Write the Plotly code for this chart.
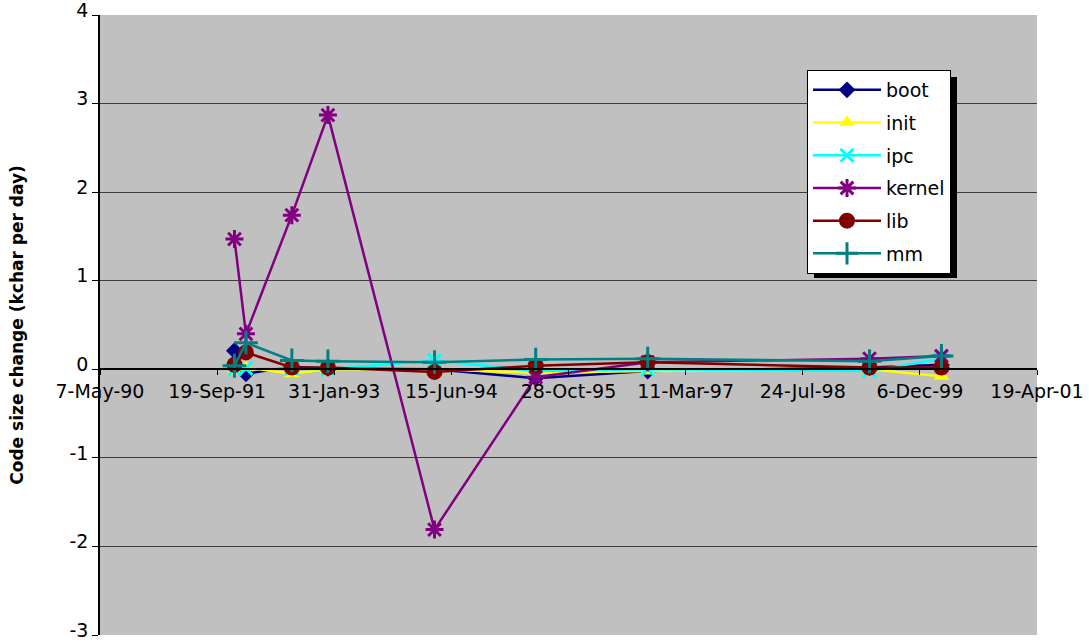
import plotly.graph_objects as go

# Release dates at which the growth rate was sampled
dates = ["1991-12-02", "1992-01-20", "1992-08-03", "1993-01-04", "1994-04-04",
         "1995-06-10", "1996-09-30", "1999-05-05", "2000-03-07"]

# Code size change per subsystem (kchar per day)
boot = [0.21, -0.05, 0.03, 0.01, 0.00, -0.10, -0.02, 0.02, 0.05]
init = [-0.02, 0.02, -0.05, 0.00, 0.00, -0.04, -0.02, 0.00, -0.08]
ipc = [0.00, 0.01, 0.01, 0.00, 0.10, -0.02, 0.00, -0.02, 0.12]
kernel = [1.47, 0.40, 1.74, 2.87, -1.81, -0.09, 0.08, 0.12, 0.15]
lib = [0.05, 0.19, 0.02, 0.02, -0.03, 0.04, 0.08, 0.02, 0.02]
mm = [0.04, 0.30, 0.10, 0.09, 0.08, 0.11, 0.12, 0.09, 0.15]

# Date axis ticks, every 500 days
tick_dates = ["1990-05-07", "1991-09-19", "1993-01-31", "1994-06-15", "1995-10-28",
              "1997-03-11", "1998-07-24", "1999-12-06", "2001-04-19"]
tick_text = ["7-May-90", "19-Sep-91", "31-Jan-93", "15-Jun-94", "28-Oct-95",
             "11-Mar-97", "24-Jul-98", "6-Dec-99", "19-Apr-01"]

# Value axis ticks
y_ticks = [-3, -2, -1, 0, 1, 2, 3, 4]
y_tick_text = ["-3", "-2", "-1", "0", "1", "2", "3", "4"]

y_min, y_max = -3, 4

series = [
    ("boot", boot, "#000080", dict(symbol="diamond", size=13)),
    ("init", init, "#FFFF00", dict(symbol="triangle-up", size=14)),
    ("ipc", ipc, "#00FFFF", dict(symbol="x-thin-open", size=13, line=dict(width=3))),
    ("kernel", kernel, "#800080", dict(symbol="asterisk-open", size=15, line=dict(width=3))),
    ("lib", lib, "#800000", dict(symbol="circle", size=16)),
    ("mm", mm, "#008080", dict(symbol="cross-thin-open", size=17, line=dict(width=3))),
]

fig = go.Figure()
for name, vals, color, marker in series:
    mk = dict(marker)
    mk["color"] = color
    if "line" in mk:
        mk["line"] = dict(mk["line"], color=color)
    fig.add_trace(go.Scatter(
        x=dates, y=vals, name=name, mode="lines+markers",
        line=dict(color=color, width=2.5),
        marker=mk, legendgroup=name,
    ))

font_family = "DejaVu Sans, Liberation Sans, Arial, sans-serif"

# Plot area in pixels
L, R, T, B = 100, 1037, 15, 635
W, H = R - L, B - T


def px_x(v):
    return (v - L) / W


def px_y(v):
    return (B - v) / H


# Legend drop shadow
fig.add_shape(type="rect", xref="paper", yref="paper",
              x0=px_x(814), x1=px_x(957), y0=px_y(278), y1=px_y(77),
              fillcolor="black", line=dict(width=0), layer="above")

fig.update_layout(
    width=1089, height=643,
    margin=dict(l=L, r=1089 - R, t=T, b=643 - B, autoexpand=False),
    paper_bgcolor="white",
    plot_bgcolor="#C0C0C0",
    font=dict(family=font_family, color="black", size=19),
    showlegend=True,
    legend=dict(
        x=px_x(807), y=px_y(70), xanchor="left", yanchor="top",
        bgcolor="white", bordercolor="black", borderwidth=1,
        font=dict(family=font_family, size=19, color="black"),
        tracegroupgap=5, itemwidth=68,
    ),
    xaxis=dict(
        type="date",
        range=[tick_dates[0], tick_dates[-1]],
        tickmode="array", tickvals=tick_dates, ticktext=tick_text,
        anchor="free", position=(0 - y_min) / (y_max - y_min),
        showline=True, linecolor="black", linewidth=1.5,
        ticks="outside", ticklen=5, tickcolor="black",
        showgrid=False, zeroline=False, automargin=False,
        tickfont=dict(family=font_family, size=19, color="black"),
    ),
    yaxis=dict(
        range=[y_min, y_max],
        tickmode="array", tickvals=y_ticks, ticktext=y_tick_text,
        showline=True, linecolor="black", linewidth=1.5,
        ticks="outside", ticklen=6, tickcolor="black",
        showgrid=True, gridcolor="#3c3c3c", gridwidth=1,
        zeroline=False, ticklabeloverflow="allow", automargin=False,
        ticklabelshift=-5,
        tickfont=dict(family=font_family, size=19, color="black"),
        title=dict(text="<b>Code size change (kchar per day)</b>",
                   font=dict(family=font_family, size=17, color="black"),
                   standoff=42),
    ),
)

fig.write_html("out.html")
